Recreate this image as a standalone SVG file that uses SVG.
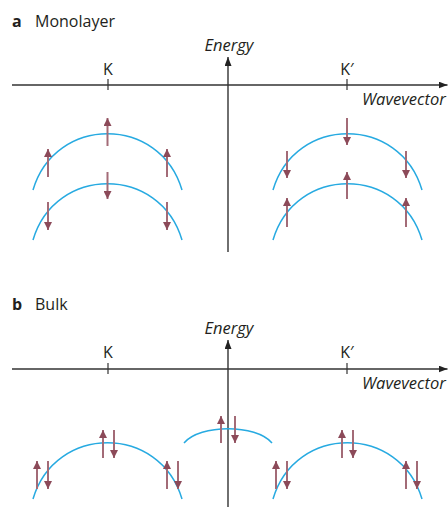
<svg xmlns="http://www.w3.org/2000/svg" width="448" height="507" viewBox="0 0 448 507">
<defs>
<style>
.t{font-family:"Open Sans","Liberation Sans",sans-serif;font-size:16px;fill:#231f20}
.b{font-weight:bold}
.i{font-style:italic;font-size:16.5px}
.ax{stroke:#333;stroke-width:1.4;fill:none}
.tick{stroke:#333;stroke-width:1.2}
.band{stroke:#27aae1;stroke-width:1.5;fill:none}
.sp{stroke:#a36b77;stroke-width:2;fill:none;marker-end:url(#sh)}
</style>
<marker id="sh" viewBox="0 0 8 8" refX="8" refY="4" markerWidth="8" markerHeight="8" markerUnits="userSpaceOnUse" orient="auto">
<path d="M0,0 L8,4 L0,8 z" fill="#8c4a59"/>
</marker>
<marker id="ah" viewBox="0 0 9 7" refX="9" refY="3.5" markerWidth="9" markerHeight="7" markerUnits="userSpaceOnUse" orient="auto">
<path d="M0,0 L9,3.5 L0,7 z" fill="#222"/>
</marker>
</defs>
<rect width="448" height="507" fill="#fff"/>

<g id="panel-a">
<text class="t b" x="12" y="27">a</text>
<text class="t" x="35" y="27">Monolayer</text>
<g id="a-axes">
<line class="ax" x1="12" y1="85" x2="447.5" y2="85" marker-end="url(#ah)"/>
<line class="ax" x1="228" y1="252" x2="228" y2="57" marker-end="url(#ah)"/>
<line class="tick" x1="108" y1="79" x2="108" y2="90"/>
<line class="tick" x1="347" y1="79" x2="347" y2="90"/>
<text class="t i" x="229" y="51" text-anchor="middle">Energy</text>
<text class="t i" x="362" y="105">Wavevector</text>
<text class="t" x="108" y="75" text-anchor="middle">K</text>
<text class="t" x="347" y="75" text-anchor="middle">K′</text>
</g>
<g id="a-bands">
<path class="band" d="M33,190 C55,115 160,115 182,190"/>
<path class="band" d="M33,240 C55,165 160,165 182,240"/>
<path class="band" d="M273,190 C295,115 400,115 422,190"/>
<path class="band" d="M273,240 C295,165 400,165 422,240"/>
</g>
<g id="a-spins">
<line class="sp" x1="107.5" y1="146" x2="107.5" y2="118"/>
<line class="sp" x1="48" y1="177" x2="48" y2="149"/>
<line class="sp" x1="167" y1="177" x2="167" y2="149"/>
<line class="sp" x1="107.5" y1="172" x2="107.5" y2="199"/>
<line class="sp" x1="48" y1="202" x2="48" y2="230"/>
<line class="sp" x1="167" y1="202" x2="167" y2="230"/>
<line class="sp" x1="347" y1="118" x2="347" y2="145"/>
<line class="sp" x1="287" y1="151" x2="287" y2="178"/>
<line class="sp" x1="406" y1="151" x2="406" y2="178"/>
<line class="sp" x1="347" y1="199" x2="347" y2="172"/>
<line class="sp" x1="287" y1="227" x2="287" y2="198"/>
<line class="sp" x1="406" y1="227" x2="406" y2="198"/>
</g>
</g>

<g id="panel-b">
<text class="t b" x="12" y="310">b</text>
<text class="t" x="35" y="310">Bulk</text>
<g id="b-axes">
<line class="ax" x1="12" y1="369" x2="447.5" y2="369" marker-end="url(#ah)"/>
<line class="ax" x1="228" y1="507" x2="228" y2="340" marker-end="url(#ah)"/>
<line class="tick" x1="108" y1="363" x2="108" y2="374"/>
<line class="tick" x1="347" y1="363" x2="347" y2="374"/>
<text class="t i" x="229" y="334" text-anchor="middle">Energy</text>
<text class="t i" x="362" y="389">Wavevector</text>
<text class="t" x="108" y="358" text-anchor="middle">K</text>
<text class="t" x="347" y="358" text-anchor="middle">K′</text>
</g>
<g id="b-bands">
<path class="band" d="M33,499 C55,424 160,424 182,499"/>
<path class="band" d="M184,443 C200,424 256,424 272,443"/>
<path class="band" d="M273,499 C295,424 400,424 422,499"/>
</g>
<g id="b-spins">
<line class="sp" x1="37" y1="489" x2="37" y2="461"/>
<line class="sp" x1="48" y1="461" x2="48" y2="489"/>
<line class="sp" x1="103" y1="458" x2="103" y2="430"/>
<line class="sp" x1="114" y1="430" x2="114" y2="458"/>
<line class="sp" x1="167" y1="489" x2="167" y2="461"/>
<line class="sp" x1="178" y1="461" x2="178" y2="489"/>
<line class="sp" x1="221" y1="443" x2="221" y2="416"/>
<line class="sp" x1="235" y1="416" x2="235" y2="443"/>
<line class="sp" x1="276" y1="489" x2="276" y2="461"/>
<line class="sp" x1="287" y1="461" x2="287" y2="489"/>
<line class="sp" x1="342" y1="458" x2="342" y2="430"/>
<line class="sp" x1="353" y1="430" x2="353" y2="458"/>
<line class="sp" x1="406" y1="489" x2="406" y2="461"/>
<line class="sp" x1="417" y1="461" x2="417" y2="489"/>
</g>
</g>
</svg>
